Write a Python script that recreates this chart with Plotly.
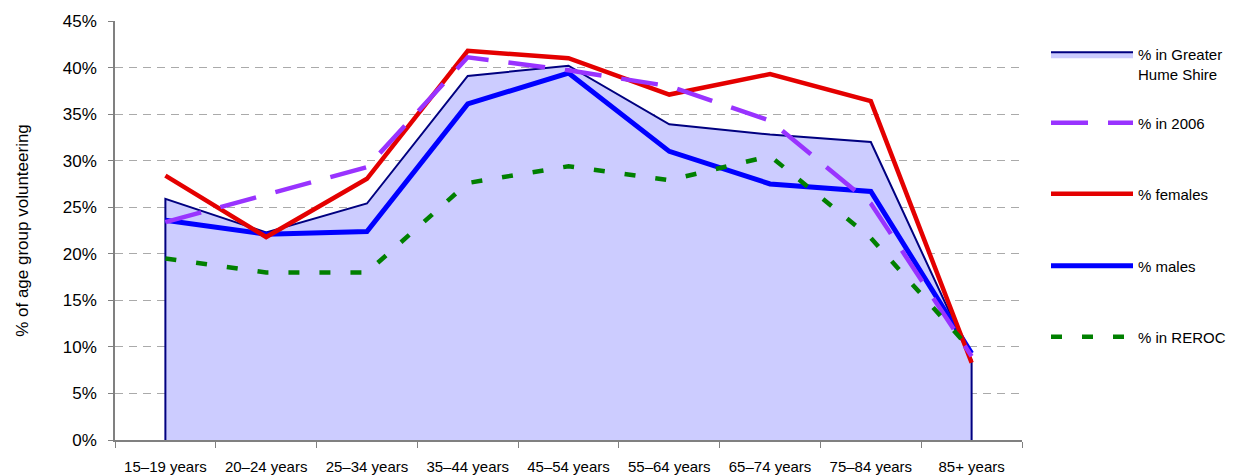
import plotly.graph_objects as go

categories = ["15–19 years", "20–24 years", "25–34 years", "35–44 years", "45–54 years",
              "55–64 years", "65–74 years", "75–84 years", "85+ years"]
hume = [25.9, 22.3, 25.4, 39.1, 40.2, 33.9, 32.8, 32.0, 8.6]
y2006 = [23.4, 26.3, 29.3, 41.1, 39.7, 38.0, 34.3, 25.4, 9.0]
females = [28.4, 21.8, 28.05, 41.8, 41.0, 37.1, 39.3, 36.4, 8.3]
males = [23.6, 22.1, 22.4, 36.1, 39.4, 31.0, 27.5, 26.7, 9.3]
reroc = [19.5, 18.0, 18.0, 27.6, 29.4, 27.9, 30.5, 21.7, 9.6]

yticks = list(range(0, 50, 5))
ytick_labels = [f"{v}%" for v in yticks]

FONT = "Liberation Sans, Arial, Helvetica, sans-serif"

fig = go.Figure()

# filled area (closed polygon so the outline also runs down both ends)
fig.add_trace(go.Scatter(
    x=[categories[0]] + categories + [categories[-1]],
    y=[0] + hume + [0],
    mode="lines", fill="toself", fillcolor="#CCCCFF",
    line=dict(color="#000080", width=2),
    name="% in Greater<br>Hume Shire", legend="legend", hoverinfo="skip"))

fig.add_trace(go.Scatter(x=categories, y=males, mode="lines",
                         line=dict(color="#0000FF", width=5),
                         name="% males", legend="legend4"))
fig.add_trace(go.Scatter(x=categories, y=females, mode="lines",
                         line=dict(color="#E40000", width=4.5),
                         name="% females", legend="legend3"))
fig.add_trace(go.Scatter(x=categories, y=y2006, mode="lines",
                         line=dict(color="#9933FF", width=4.5, dash="37px,20px"),
                         name="% in 2006", legend="legend2"))
fig.add_trace(go.Scatter(x=categories, y=reroc, mode="lines",
                         line=dict(color="#008000", width=4.5, dash="11px,20px"),
                         name="% in REROC", legend="legend5"))

# page body has an 8px margin, so the figure is 8px smaller than the window
OFF = 8
W, H = 1234 - OFF, 476 - OFF
PL, PR, PT, PB = 115, 1022, 21, 440  # plot area in window pixels
L, T = PL - OFF, PT - OFF
R = W - (PR - OFF)
B = H - (PB - OFF)
pw = PR - PL
ph = PB - PT

def px_x(p):
    return (p - PL) / pw

def px_y(p):
    return (PB - p) / ph

legend_common = dict(font=dict(family=FONT, size=15, color="#000000"),
                     bgcolor="rgba(0,0,0,0)", borderwidth=0,
                     itemwidth=82, xanchor="left", yanchor="middle",
                     valign="top", x=px_x(1046))

fig.update_layout(
    width=W, height=H,
    margin=dict(l=L, r=R, t=T, b=B, pad=0, autoexpand=False),
    plot_bgcolor="white", paper_bgcolor="white",
    font=dict(family=FONT, size=15, color="#000000"),
    legend=dict(**legend_common, y=px_y(64)),
    legend2=dict(**legend_common, y=px_y(123)),
    legend3=dict(**legend_common, y=px_y(194)),
    legend4=dict(**legend_common, y=px_y(266)),
    legend5=dict(**legend_common, y=px_y(337)),
    xaxis=dict(
        type="category", range=[-0.5, 8.5], automargin=False,
        tickson="boundaries", ticks="outside", ticklen=6, tickcolor="#808080",
        showline=True, linecolor="#808080", linewidth=1.5,
        showgrid=False, tickfont=dict(size=15, family=FONT),
        ticklabelstandoff=12),
    yaxis=dict(
        range=[0, 45], tickvals=yticks, ticktext=ytick_labels, automargin=False,
        ticks="outside", ticklen=5, tickcolor="#808080",
        showline=True, linecolor="#808080", linewidth=1.5,
        showgrid=True, gridcolor="#AAAAAA", griddash="8px,6px", gridwidth=1,
        zeroline=False, tickfont=dict(size=17, family=FONT),
        ticklabelstandoff=8,
        title=dict(text="% of age group volunteering", font=dict(size=17, family=FONT),
                   standoff=30)),
    showlegend=True,
)

fig.write_html("out.html")
